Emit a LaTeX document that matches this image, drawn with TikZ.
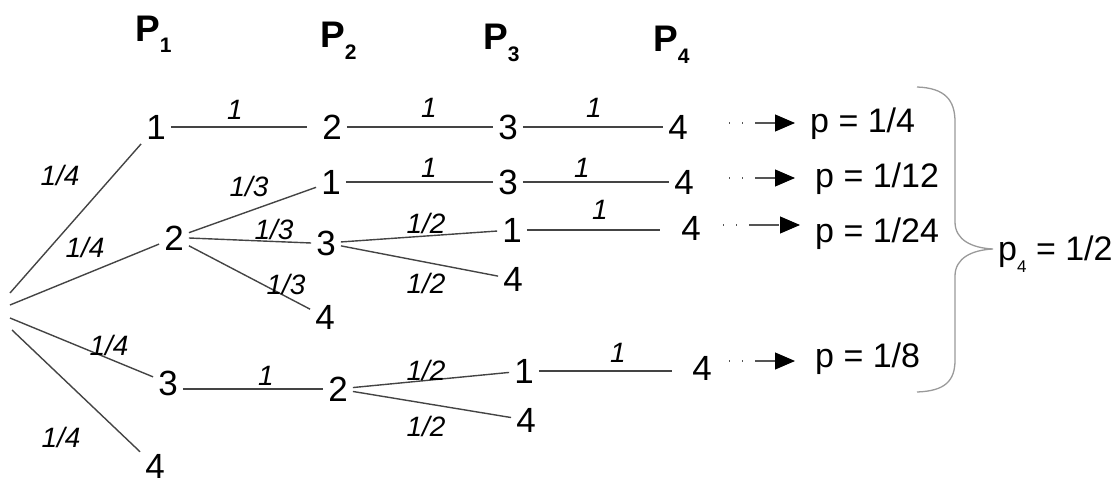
\documentclass[tikz,border=0pt]{standalone}
\usepackage{fontspec}
\setmainfont{Liberation Sans}
\usetikzlibrary{arrows.meta}
\definecolor{edgegray}{HTML}{444444}
\definecolor{bracegray}{HTML}{9A9A9A}
\definecolor{arrgray}{HTML}{555555}
\begin{document}
\begin{tikzpicture}[x=1pt,y=-1pt,
  num/.style={inner sep=5pt,font=\fontsize{35}{38}\selectfont},
  lab/.style={inner sep=0pt,font=\fontsize{28}{30}\selectfont\itshape},
  head/.style={inner sep=0pt,anchor=base west,font=\fontsize{37}{40}\selectfont\bfseries},
  res/.style={inner sep=0pt,anchor=base west,font=\fontsize{34}{36}\selectfont},
  edge/.style={draw=edgegray,line width=1.4pt},
  parr/.style={draw=arrgray,line width=1.1pt,dash pattern=on 1pt off 12pt on 1pt off 12pt on 30pt,
     -{Triangle[length=20pt,width=17pt,black]}},
  bracestyle/.style={draw=bracegray,line width=1.3pt}]
\useasboundingbox (0,0) rectangle (1119,484);

% headings
\node[head] (P1) at (135,42) {P\raisebox{-11pt}{\fontsize{21}{21}\selectfont 1}};
\node[head] (P2) at (320,48) {P\raisebox{-12pt}{\fontsize{21}{21}\selectfont 2}};
\node[head] (P3) at (483,50) {P\raisebox{-12pt}{\fontsize{21}{21}\selectfont 3}};
\node[head] (P4) at (653,52) {P\raisebox{-12pt}{\fontsize{21}{21}\selectfont 4}};

% root
\coordinate (r1) at (10,293);
\coordinate (r2) at (10,305);
\coordinate (r3) at (10,318);
\coordinate (r4) at (12,330);

% level 1
\node[num] (a1) at (156,127) {1};
\node[num] (a2) at (174,238) {2};
\node[num] (a3) at (168,383) {3};
\node[num] (a4) at (155,466) {4};
% level 2
\node[num] (b1) at (332,127) {2};
\node[num] (b2) at (331,182) {1};
\node[num] (b3) at (326,243) {3};
\node[num] (b4) at (325,317) {4};
\node[num] (b5) at (338,389) {2};
% level 3
\node[num] (c1) at (508,127) {3};
\node[num] (c2) at (508,182) {3};
\node[num] (c3) at (512,230) {1};
\node[num] (c4) at (513,279) {4};
\node[num] (c5) at (524,371) {1};
\node[num] (c6) at (526,420) {4};
% level 4
\node[num] (d1) at (678,127) {4};
\node[num] (d2) at (684,182) {4};
\node[num] (d3) at (691,228) {4};
\node[num] (d4) at (702,368) {4};

% edges
\draw[edge] (r1) -- (a1);
\draw[edge] (r2) -- (a2);
\draw[edge] (r3) -- (a3);
\draw[edge] (r4) -- (a4);
\draw[edge,shorten >=10pt] (a1) -- (b1);
\draw[edge] (a2) -- (b2);
\draw[edge] (a2.east) -- (b3.west);
\draw[edge] (a2) -- (b4);
\draw[edge] (a3.east |- b5.west) -- (b5.west);
\draw[edge] (b1) -- (c1);
\draw[edge] (b2) -- (c2);
\draw[edge] (b3) -- (c3);
\draw[edge] (b3) -- (c4);
\draw[edge] (b5) -- (c5);
\draw[edge] (b5) -- (c6);
\draw[edge] (c1) -- (d1);
\draw[edge] (c2) -- (d2);
\draw[edge,shorten >=16pt] (c3.east) -- (c3.east -| d3.west);
\draw[edge,shorten >=15pt] (c5.east) -- (c5.east -| d4.west);

% edge labels
\node[lab] (l1) at (60,175) {1/4};
\node[lab] (l2) at (85,247) {1/4};
\node[lab] (l3) at (109,345) {1/4};
\node[lab] (l4) at (61,437) {1/4};
\node[lab] (l5) at (235,110) {1};
\node[lab] (l6) at (249,186) {1/3};
\node[lab] (l7) at (274,229) {1/3};
\node[lab] (l8) at (286,284) {1/3};
\node[lab] (l9) at (266,376) {1};
\node[lab] (l10) at (429,108) {1};
\node[lab] (l11) at (429,168) {1};
\node[lab] (l12) at (426,223) {1/2};
\node[lab] (l13) at (426,283) {1/2};
\node[lab] (l14) at (426,370) {1/2};
\node[lab] (l15) at (426,426) {1/2};
\node[lab] (l16) at (594,108) {1};
\node[lab] (l17) at (582,168) {1};
\node[lab] (l18) at (600,210) {1};
\node[lab] (l19) at (618,353) {1};

% results
\node[res] (p1) at (810,132) {p = 1/4};
\node[res] (p2) at (815,187) {p = 1/12};
\node[res] (p3) at (815,242) {p = 1/24};
\node[res] (p4) at (815,367) {p = 1/8};

\coordinate (s1) at (729,123);
\coordinate (s2) at (729,178);
\coordinate (s3) at (723,225);
\coordinate (s4) at (729,361);
\draw[parr,shorten >=15pt] (s1) -- (s1 -| p1.west);
\draw[parr,shorten >=20pt] (s2) -- (s2 -| p2.west);
\draw[parr,shorten >=15pt] (s3) -- (s3 -| p3.west);
\draw[parr,shorten >=20pt] (s4) -- (s4 -| p4.west);

% brace and total
\node[res] (tot) at (998,260) {p\raisebox{-12pt}{\fontsize{17}{17}\selectfont 4} = 1/2};
\coordinate (tip) at (993,249);
\draw[bracestyle] (917,87) .. controls (945,88) and (955,100) .. (955,122) -- (955,222)
  .. controls (955,240) and (972,248) .. (tip)
  .. controls (972,250) and (955,258) .. (955,276) -- (955,360)
  .. controls (955,381) and (945,391) .. (917,392);
\end{tikzpicture}
\end{document}
